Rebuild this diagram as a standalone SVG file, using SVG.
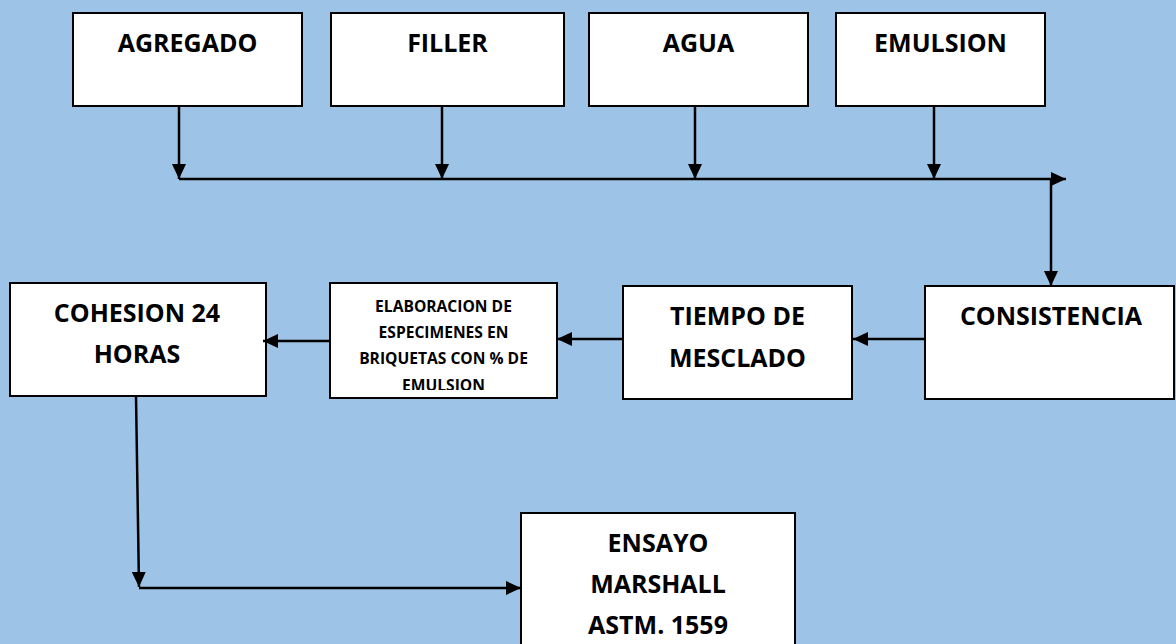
<svg xmlns="http://www.w3.org/2000/svg" width="1176" height="644" viewBox="0 0 1176 644">
<style>
.box{fill:#ffffff;stroke:#000000;stroke-width:2}
.t{font-family:"Open Sans","Liberation Sans",sans-serif;font-weight:700;font-size:25px;fill:#000;text-anchor:middle}
.s{font-family:"Open Sans","Liberation Sans",sans-serif;font-weight:700;font-size:15.6px;fill:#000;text-anchor:middle}
.c{fill:none;stroke:#000;stroke-width:2.5}
</style>
<defs>
<marker id="ah" markerUnits="userSpaceOnUse" markerWidth="15" markerHeight="14" refX="15" refY="7" orient="auto">
<path d="M0,0 L15,7 L0,14 z" fill="#000"/>
</marker>
<clipPath id="clipElab"><rect x="330" y="283" width="227" height="107"/></clipPath>
</defs>
<rect x="0" y="0" width="1176" height="644" fill="#9dc3e6"/>
<g id="agregado"><rect class="box" x="73" y="13" width="229" height="93"/><text class="t" x="187.5" y="52">AGREGADO</text></g>
<g id="filler"><rect class="box" x="331" y="13" width="233" height="93"/><text class="t" x="447.5" y="52">FILLER</text></g>
<g id="agua"><rect class="box" x="589" y="13" width="219" height="93"/><text class="t" x="698.5" y="52">AGUA</text></g>
<g id="emulsion"><rect class="box" x="836" y="13" width="209" height="93"/><text class="t" x="940.5" y="52">EMULSION</text></g>
<g id="consistencia"><rect class="box" x="925" y="286" width="249" height="113"/><text class="t" x="1051" y="325">CONSISTENCIA</text></g>
<g id="tiempo"><rect class="box" x="623" y="286" width="229" height="113"/><text class="t" x="737.5" y="325">TIEMPO DE</text><text class="t" x="737.5" y="367">MESCLADO</text></g>
<g id="elaboracion"><rect class="box" x="330" y="283" width="227" height="115"/>
<g clip-path="url(#clipElab)"><text class="s" x="443.5" y="312">ELABORACION DE</text><text class="s" x="443.5" y="338">ESPECIMENES EN</text><text class="s" x="443.5" y="364">BRIQUETAS CON % DE</text><text class="s" x="443.5" y="391">EMULSION</text></g></g>
<g id="cohesion"><rect class="box" x="10" y="283" width="256" height="113"/><text class="t" x="137" y="322">COHESION 24</text><text class="t" x="137" y="363">HORAS</text></g>
<g id="ensayo"><rect class="box" x="521" y="513" width="274" height="140"/><text class="t" x="658" y="552">ENSAYO</text><text class="t" x="658" y="593">MARSHALL</text><text class="t" x="658" y="634">ASTM. 1559</text></g>
<g id="connectors">
<line class="c" x1="179" y1="106" x2="179" y2="179" marker-end="url(#ah)"/>
<line class="c" x1="442" y1="106" x2="442" y2="179" marker-end="url(#ah)"/>
<line class="c" x1="695" y1="106" x2="695" y2="179" marker-end="url(#ah)"/>
<line class="c" x1="934" y1="106" x2="934" y2="179" marker-end="url(#ah)"/>
<line class="c" x1="179" y1="179" x2="1066" y2="179" marker-end="url(#ah)"/>
<line class="c" x1="1051" y1="179" x2="1051" y2="286" marker-end="url(#ah)"/>
<line class="c" x1="925" y1="339" x2="853" y2="339" marker-end="url(#ah)"/>
<line class="c" x1="623" y1="339" x2="557" y2="339" marker-end="url(#ah)"/>
<line class="c" x1="330" y1="341" x2="263" y2="341" marker-end="url(#ah)"/>
<line class="c" x1="136" y1="396" x2="139" y2="587" marker-end="url(#ah)"/>
<line class="c" x1="139" y1="588" x2="521" y2="588" marker-end="url(#ah)"/>
</g>
</svg>
